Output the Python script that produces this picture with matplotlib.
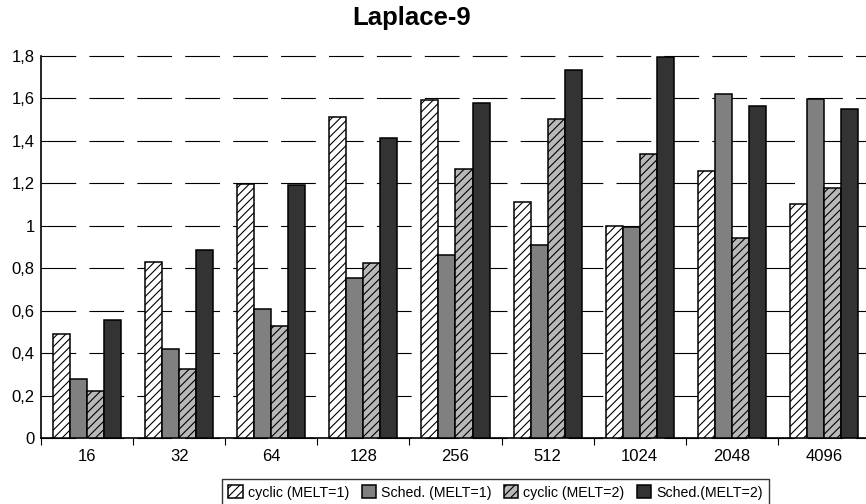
import matplotlib
matplotlib.use("Agg")
import matplotlib.pyplot as plt
import numpy as np

plt.rcParams['font.family'] = ['Liberation Sans', 'DejaVu Sans']
plt.rcParams['hatch.linewidth'] = 0.8
plt.rcParams['lines.scale_dashes'] = False

categories = ["16", "32", "64", "128", "256", "512", "1024", "2048", "4096"]
series_names = ["cyclic (MELT=1)", "Sched. (MELT=1)", "cyclic (MELT=2)", "Sched.(MELT=2)"]
cyclic1 = [0.489, 0.830, 1.197, 1.511, 1.593, 1.114, 1.001, 1.259, 1.103]
sched1 = [0.279, 0.420, 0.606, 0.753, 0.861, 0.908, 0.993, 1.620, 1.595]
cyclic2 = [0.221, 0.326, 0.528, 0.824, 1.266, 1.502, 1.339, 0.943, 1.176]
sched2 = [0.556, 0.885, 1.190, 1.414, 1.577, 1.734, 1.793, 1.563, 1.551]
ytick_vals = [0, 0.2, 0.4, 0.6, 0.8, 1.0, 1.2, 1.4, 1.6, 1.8]
ytick_labels = ["0", "0,2", "0,4", "0,6", "0,8", "1", "1,2", "1,4", "1,6", "1,8"]

series = [cyclic1, sched1, cyclic2, sched2]
colors = ["#ffffff", "#808080", "#b8b8b8", "#333333"]
hatches = ["////", None, "////", None]

fig = plt.figure(figsize=(8.66, 5.04), dpi=100)
ax = fig.add_axes([41/866, 65.7/504, 829/866, 382.6/504])

x = np.arange(len(categories))
w = 0.185
for i, (vals, c, h, name) in enumerate(zip(series, colors, hatches, series_names)):
    ax.bar(x + (i - 1.5) * w, vals, width=w, color=c, edgecolor="black",
           linewidth=1.1, hatch=h, label=name, zorder=3)

ax.set_xlim(-0.5, len(categories) - 0.5)
ax.set_ylim(0, 1.8)
ax.set_yticks(ytick_vals)
ax.set_yticklabels(ytick_labels)
ax.set_xticks(x)
ax.set_xticklabels(categories)
ax.set_xticks(np.arange(-0.5, len(categories) - 0.5, 1.0), minor=True)
ax.tick_params(axis='x', which='major', length=0, pad=8, labelsize=12)
ax.tick_params(axis='x', which='minor', length=5, width=0.8, direction='out')
ax.tick_params(axis='y', length=0, pad=4.5, labelsize=12)

ax.yaxis.grid(True, color="black", linewidth=0.8, linestyle=(0, (25, 9.5)), zorder=0)
for gl in ax.get_ygridlines():
    gl.set_clip_on(False)
for s in ["top", "right"]:
    ax.spines[s].set_visible(False)
ax.spines["left"].set_linewidth(1.2)
ax.spines["bottom"].set_linewidth(1.2)

fig.text(412/866, 1 - 18/504, "Laplace-9", ha="center", va="center",
         fontsize=18.5, fontweight="bold")

leg = fig.legend(loc="upper left", bbox_to_anchor=(222/866, 1 - 479/504), ncol=4,
                 fontsize=10.2, frameon=True, fancybox=False, handlelength=1.0,
                 handleheight=1.0, handletextpad=0.35, columnspacing=0.9,
                 borderpad=0.45, borderaxespad=0)
leg.get_frame().set_edgecolor("black")
leg.get_frame().set_linewidth(1.0)

fig.savefig("out.png", dpi=100)
